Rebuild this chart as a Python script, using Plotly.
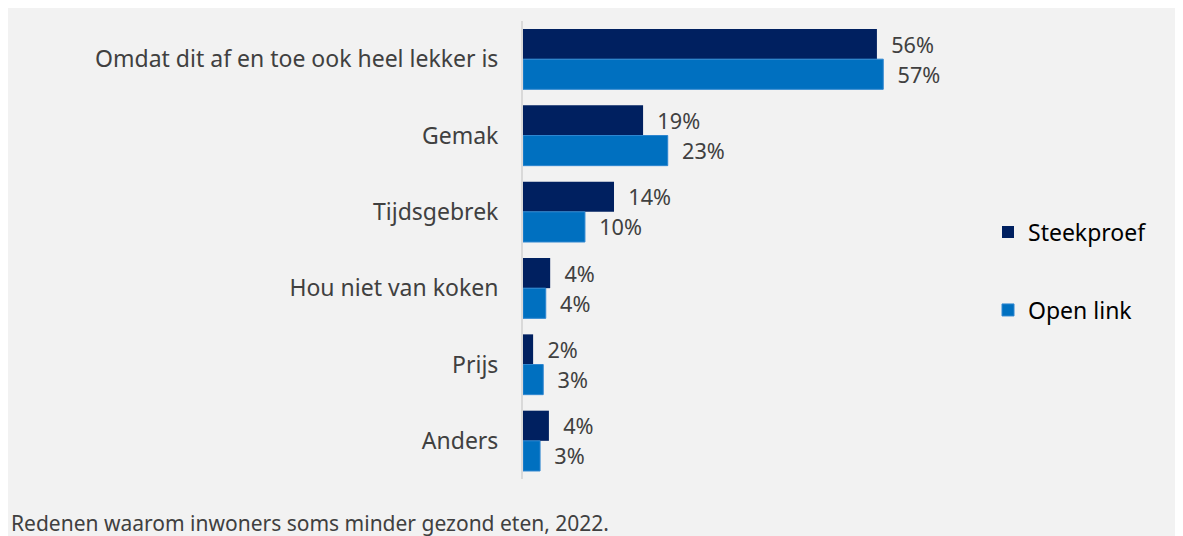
import plotly.graph_objects as go

categories = ["Omdat dit af en toe ook heel lekker is", "Gemak", "Tijdsgebrek",
              "Hou niet van koken", "Prijs", "Anders"]
steekproef = [56, 19, 14.4, 4.3, 1.6, 4.1]
steekproef_labels = ["56%", "19%", "14%", "4%", "2%", "4%"]
open_link = [57, 22.9, 9.8, 3.6, 3.2, 2.7]
open_link_labels = ["57%", "23%", "10%", "4%", "3%", "3%"]
caption = "Redenen waarom inwoners soms minder gezond eten, 2022."

OFF = 8  # page body margin
W, H = 1183 - OFF, 536 - OFF
L, T = 523 - OFF, 21 - OFF
PB = 479 - OFF
B = H - PB
PW = 470
R = W - L - PW
PH = PB - T
px_per_unit = 6.32
FONT = "Noto Sans"

def px_x(p):
    return (p - OFF - L) / PW

def px_y(p):
    return (PB - (p - OFF)) / PH

fig = go.Figure()
fig.add_trace(go.Bar(
    y=categories, x=steekproef, orientation="h", name="Steekproef",
    marker=dict(color="#002060", line=dict(width=0)),
    text=["  " + t for t in steekproef_labels], textposition="outside",
    textfont=dict(size=23, color="#404040", family=FONT),
    cliponaxis=False, legend="legend",
))
fig.add_trace(go.Bar(
    y=categories, x=open_link, orientation="h", name="Open link",
    marker=dict(color="#0070C0", line=dict(width=1, color="#2E86D0")),
    text=["  " + t for t in open_link_labels], textposition="outside",
    textfont=dict(size=23, color="#404040", family=FONT),
    cliponaxis=False, legend="legend2",
))

fig.add_shape(type="rect", xref="paper", yref="paper",
              x0=px_x(0), x1=px_x(1200), y0=px_y(560), y1=px_y(5),
              fillcolor="#F2F2F2", line=dict(width=0), layer="below")

fig.add_annotation(text=caption, xref="paper", yref="paper",
                   x=px_x(OFF + 1), y=px_y(523), xanchor="left", yanchor="middle",
                   showarrow=False, font=dict(size=21, color="#404040", family=FONT))

legend_common = dict(xref="paper", yref="paper", xanchor="left", yanchor="middle",
                     bgcolor="rgba(0,0,0,0)", font=dict(size=23, color="#000000", family=FONT),
                     itemwidth=30)
fig.update_layout(
    width=W, height=H,
    margin=dict(l=L, r=R, t=T, b=B, pad=0),
    paper_bgcolor="white", plot_bgcolor="rgba(0,0,0,0)",
    barmode="group", bargap=0.21, bargroupgap=0,
    font=dict(family=FONT),
    showlegend=True,
    legend=dict(x=px_x(988), y=px_y(232), **legend_common),
    legend2=dict(x=px_x(988), y=px_y(310), **legend_common),
    xaxis=dict(range=[0, PW / px_per_unit], showgrid=False, zeroline=False,
               showticklabels=False, showline=False, fixedrange=True),
    yaxis=dict(autorange="reversed", showgrid=False, zeroline=False,
               showline=True, linecolor="#D9D9D9", linewidth=2,
               ticks="", ticklabelstandoff=18,
               tickfont=dict(size=23, color="#404040", family=FONT)),
)

fig.write_html("out.html")
